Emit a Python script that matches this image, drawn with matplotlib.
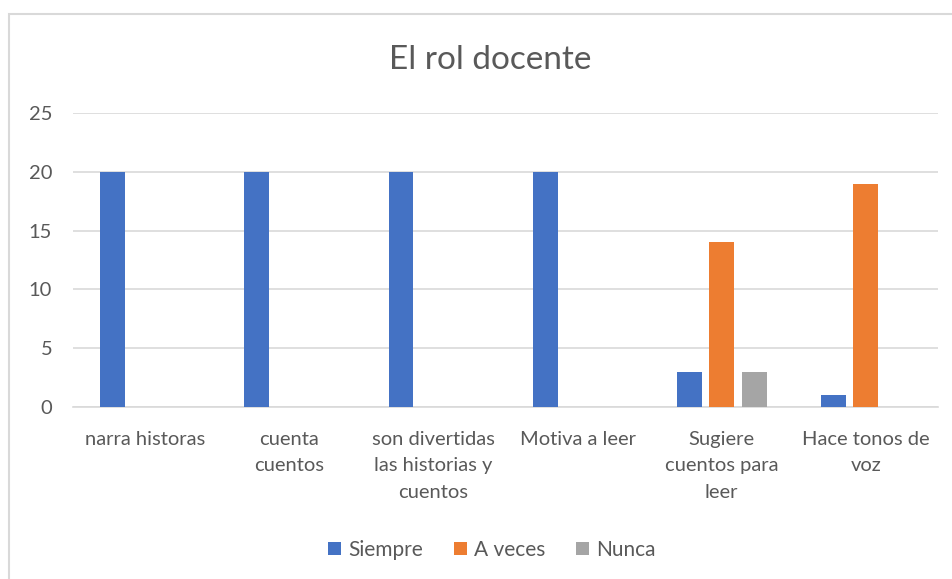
import numpy as np
import matplotlib.pyplot as plt
from matplotlib.patches import Rectangle

plt.rcParams['font.family'] = ['Lato', 'DejaVu Sans']

categories = ['narra historas', 'cuenta\ncuentos', 'son divertidas\nlas historias y\ncuentos',
              'Motiva a leer', 'Sugiere\ncuentos para\nleer', 'Hace tonos de\nvoz']
siempre = [20, 20, 20, 20, 3, 1]
a_veces = [0, 0, 0, 0, 14, 19]
nunca = [0, 0, 0, 0, 3, 0]
series = ['Siempre', 'A veces', 'Nunca']
colors = ['#4472C4', '#ED7D31', '#A5A5A5']
text_col = '#595959'

fig = plt.figure(figsize=(9.53, 5.79), dpi=100)
ax = fig.add_axes([73/953, 1 - 407/579, 865/953, (407 - 113)/579])

x = np.arange(len(categories))
w = 0.173
for i, (vals, name) in enumerate(zip([siempre, a_veces, nunca], series)):
    ax.bar(x + (i - 1) * 0.225, vals, w, color=colors[i], label=name, zorder=3)

ax.set_xlim(-0.5, len(categories) - 0.5)
ax.set_ylim(0, 25)
ax.set_yticks(range(0, 26, 5))
ax.yaxis.grid(True, color='#D9D9D9', linewidth=1.2, zorder=0)
for s in ['top', 'right', 'left']:
    ax.spines[s].set_visible(False)
ax.spines['bottom'].set_color('#D9D9D9')
ax.spines['bottom'].set_linewidth(1.2)
ax.tick_params(length=0, colors=text_col, labelsize=14.5)
ax.tick_params(axis='y', pad=15)
ax.tick_params(axis='x', pad=17)
ax.set_xticks(x)
ax.set_xticklabels(categories, linespacing=1.7)

fig.text(490/953, 1 - 60/579, 'El rol docente', ha='center', va='center',
         fontsize=24, color=text_col)

ax.legend(loc='center', bbox_to_anchor=(492/953, 1 - 550/579), bbox_transform=fig.transFigure,
          ncol=3, frameon=False, fontsize=15, labelcolor=text_col,
          handlelength=0.6, handleheight=0.6, handletextpad=0.35, columnspacing=1.5)

# chart frame
fig.patches.append(Rectangle((9/953, -0.1), 1.1, 1 - 14/579 + 0.1, transform=fig.transFigure,
                             fill=False, edgecolor='#D9D9D9', linewidth=1.5))

fig.savefig('out.png', dpi=100)
